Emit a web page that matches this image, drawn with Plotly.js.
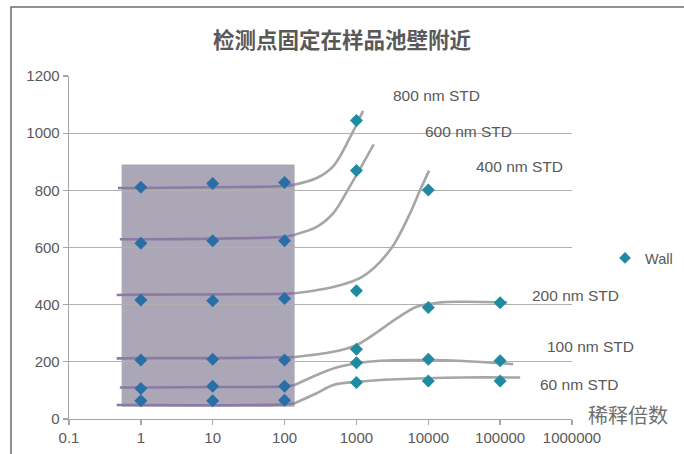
<!DOCTYPE html>
<html>
<head>
<meta charset="utf-8">
<script src="https://cdn.plot.ly/plotly-3.0.1.min.js"></script>
<style>html,body{margin:0;padding:0;background:#fff;}#chart{width:684px;height:454px;}</style>
</head>
<body>
<div id="chart"></div>
<script>
// ---------- data ----------
const chartTitle = '检测点固定在样品池壁附近';
const xAxisTitle = '稀释倍数';
const seriesName = 'Wall';
const xTickVals = [0.1, 1, 10, 100, 1000, 10000, 100000, 1000000];
const xTickText = ['0.1', '1', '10', '100', '1000', '10000', '100000', '1000000'];
const yTickVals = [0, 200, 400, 600, 800, 1000, 1200];

// measured points (dilution factor, value) per standard
const std800X = [1, 10, 100, 1000];
const std800Y = [811, 824, 827, 1044];
const std600X = [1, 10, 100, 1000];
const std600Y = [615, 624, 624, 869];
const std400X = [1, 10, 100, 1000, 10000];
const std400Y = [416, 414, 422, 449, 801];
const std200X = [1, 10, 100, 1000, 10000, 100000];
const std200Y = [206, 209, 206, 244, 390, 407];
const std100X = [1, 10, 100, 1000, 10000, 100000];
const std100Y = [107, 115, 115, 197, 209, 204];
const std60X = [1, 10, 100, 1000, 10000, 100000];
const std60Y = [64, 64, 66, 128, 133, 133];

// hand-drawn guide curves
const curve800X = [0.48, 1, 10, 100, 138, 280, 477, 814, 1236];
const curve800Y = [808, 808, 811, 815, 820, 843, 885, 985, 1078];
const curve600X = [0.51, 1, 10, 100, 138, 280, 477, 814, 1743];
const curve600Y = [629, 629, 631, 638, 645, 672, 720, 815, 961];
const curve400X = [0.46, 1, 10, 100, 138, 477, 1200, 2940, 5580, 7690, 10260];
const curve400Y = [434, 435, 436, 438, 440, 462, 497, 591, 720, 801, 869];
const curve200X = [0.46, 1, 10, 100, 138, 477, 1009, 2130, 3640, 6920, 14600, 30500, 125000];
const curve200Y = [212, 213, 213, 216, 217, 235, 259, 311, 352, 393, 408, 410, 408];
const curve100X = [0.51, 1, 10, 100, 138, 280, 477, 1009, 2130, 10600, 30500, 152000];
const curve100Y = [110, 110, 112, 114, 119, 154, 177, 195, 204, 206, 203, 192];
const curve60X = [0.46, 1, 10, 100, 138, 280, 477, 1009, 3640, 30500, 190000];
const curve60Y = [49, 49, 48, 51, 55, 90, 119, 130, 139, 145, 145];

const curveLabels = ['800 nm STD', '600 nm STD', '400 nm STD', '200 nm STD', '100 nm STD', '60 nm STD'];

// highlighted region (dilution range, value range)
const boxX = [0.54, 138];
const boxY = [43, 890];

// ---------- styles ----------
const GRAY_LINE = '#a6a6a6';
const PURPLE_LINE = '#8b7ba4';
const MARK_OUT = '#1f8aa0';
const MARK_IN = '#2b6ea6';
const TXT = '#595959';

const curves = [
  [curve800X, curve800Y], [curve600X, curve600Y], [curve400X, curve400Y],
  [curve200X, curve200Y], [curve100X, curve100Y], [curve60X, curve60Y]
];

const traces = [];
curves.forEach(([cx, cy]) => {
  const ox = [], oy = [], ix = [], iy = [];
  cx.forEach((v, i) => {
    if (v >= boxX[1]) { ox.push(v); oy.push(cy[i]); }
    if (v <= boxX[1]) { ix.push(v); iy.push(cy[i]); }
  });
  traces.push({x: ox, y: oy, mode: 'lines', line: {color: GRAY_LINE, width: 2.6, shape: 'spline', smoothing: 1}, showlegend: false, hoverinfo: 'skip'});
  traces.push({x: ix, y: iy, mode: 'lines', line: {color: PURPLE_LINE, width: 2.6, shape: 'spline', smoothing: 1}, showlegend: false, hoverinfo: 'skip'});
});

const allX = [].concat(std800X, std600X, std400X, std200X, std100X, std60X);
const allY = [].concat(std800Y, std600Y, std400Y, std200Y, std100Y, std60Y);
const markerColors = allX.map(v => (v >= boxX[0] && v <= boxX[1]) ? MARK_IN : MARK_OUT);

traces.push({
  x: allX, y: allY, mode: 'markers', name: seriesName,
  marker: {symbol: 'diamond', size: 10, color: markerColors, line: {width: 0}},
  showlegend: false
});
traces.push({
  x: [null], y: [null], mode: 'markers', name: seriesName,
  marker: {symbol: 'diamond', size: 9, color: MARK_OUT}, showlegend: true
});

const W = 684, H = 454;
const L = 69, R = 572, T = 76, B = 419;
const px2x = p => (p - L) / (R - L);
const px2y = p => (B - p) / (B - T);
const labelPos = [[436, 95], [468.5, 131], [519, 166], [575, 295], [590.5, 346], [579, 384]];

const annotations = curveLabels.map((t, i) => ({
  text: t, xref: 'paper', yref: 'paper', x: px2x(labelPos[i][0]), y: px2y(labelPos[i][1]),
  xanchor: 'center', yanchor: 'middle', showarrow: false,
  font: {family: 'Liberation Sans, Arial, sans-serif', size: 15.5, color: TXT}
}));
annotations.push({
  text: xAxisTitle, xref: 'paper', yref: 'paper', x: px2x(628), y: px2y(414),
  xanchor: 'center', yanchor: 'middle', showarrow: false,
  font: {family: 'Noto Sans CJK SC, sans-serif', size: 20, color: '#6f6f6f'}
});

const layout = {
  width: W, height: H,
  margin: {l: L, r: W - R, t: T, b: H - B, pad: 0, autoexpand: false},
  paper_bgcolor: '#ffffff', plot_bgcolor: '#ffffff',
  title: {
    text: '<b>' + chartTitle + '</b>', xref: 'container', x: 342 / W, xanchor: 'center',
    yref: 'container', y: 1 - 40 / H, yanchor: 'middle',
    font: {family: 'Noto Sans CJK SC, sans-serif', size: 21.5, color: TXT}
  },
  xaxis: {
    type: 'log', range: [-1, 6], tickvals: xTickVals, ticktext: xTickText,
    showgrid: false, zeroline: false, showline: true, linecolor: '#a6a6a6', linewidth: 1.3,
    ticks: 'outside', ticklen: 5, tickcolor: '#a6a6a6', tickwidth: 1.3, automargin: false,
    tickfont: {family: 'Liberation Sans, Arial, sans-serif', size: 15, color: TXT}
  },
  yaxis: {
    range: [0, 1200], tickvals: yTickVals,
    showgrid: true, gridcolor: '#b0b0b0', gridwidth: 1.3, zeroline: false,
    showline: true, linecolor: '#a6a6a6', linewidth: 1.3, automargin: false,
    ticks: 'outside', ticklen: 5, tickcolor: '#a6a6a6', tickwidth: 1.3,
    tickfont: {family: 'Liberation Sans, Arial, sans-serif', size: 15, color: TXT}
  },
  legend: {
    xref: 'container', yref: 'container',
    x: 605 / W, y: 1 - 258 / H, xanchor: 'left', yanchor: 'middle',
    bgcolor: 'rgba(0,0,0,0)', borderwidth: 0, itemwidth: 30,
    font: {family: 'Liberation Sans, Arial, sans-serif', size: 14.5, color: TXT}
  },
  showlegend: true,
  shapes: [
    {type: 'rect', xref: 'x', yref: 'y', x0: boxX[0], x1: boxX[1], y0: boxY[0], y1: boxY[1],
     fillcolor: '#aca7b6', line: {width: 0}, layer: 'below'},
    {type: 'rect', xref: 'paper', yref: 'paper', x0: px2x(11), x1: px2x(700), y0: px2y(470), y1: px2y(7),
     line: {color: '#6e6e6e', width: 1.5}, fillcolor: 'rgba(0,0,0,0)', layer: 'above'}
  ],
  annotations: annotations
};

Plotly.newPlot('chart', traces, layout, {staticPlot: true, displayModeBar: false});
</script>
</body>
</html>
